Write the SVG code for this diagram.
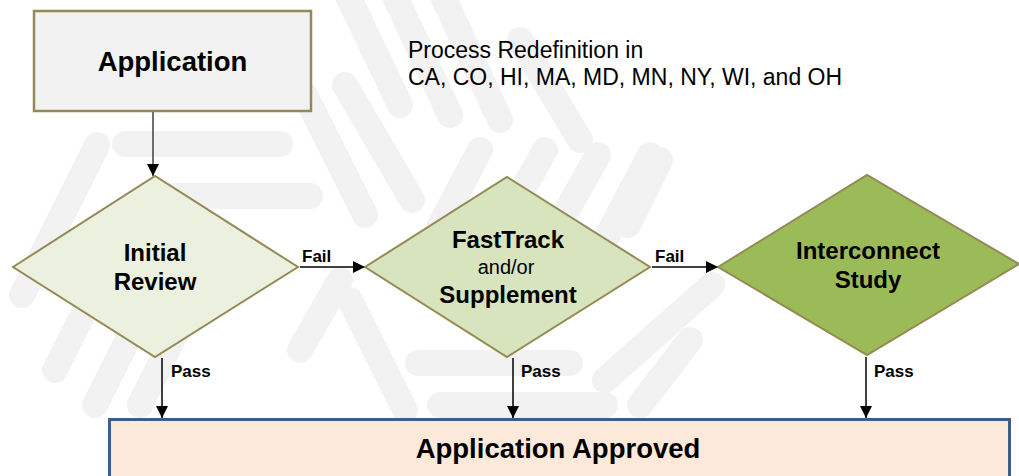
<svg xmlns="http://www.w3.org/2000/svg" width="1019" height="476" viewBox="0 0 1019 476">
<style>
.bg line{stroke:#f2f2f2;stroke-width:26;stroke-linecap:round}
.box{stroke:#948a54;stroke-width:2.5}
.dia{stroke:#948a54;stroke-width:2}
.t{font-family:"Liberation Sans",Arial,sans-serif;fill:#000;text-anchor:middle}
.b{font-weight:bold}
.lbl{font-family:"Liberation Sans",Arial,sans-serif;font-weight:bold;font-size:17px;fill:#000}
.con line{stroke:#000;stroke-width:1.5}
</style>
<defs>
<marker id="ah" viewBox="0 0 12 12" refX="12" refY="6" markerWidth="12" markerHeight="12" markerUnits="userSpaceOnUse" orient="auto">
<path d="M0,0 L12,6 L0,12 Z" fill="#000"/>
</marker>
</defs>
<rect width="1019" height="476" fill="#fff"/>
<g class="bg" id="watermark">
<line x1="345" y1="-10" x2="400" y2="105"/>
<line x1="392" y1="-10" x2="450" y2="115"/>
<line x1="440" y1="-10" x2="500" y2="120"/>
<line x1="520" y1="40" x2="580" y2="140"/>
<line x1="305" y1="95" x2="365" y2="215"/>
<line x1="345" y1="85" x2="412" y2="200"/>
<line x1="125" y1="144" x2="280" y2="144"/>
<line x1="172" y1="196" x2="310" y2="196"/>
<line x1="22" y1="295" x2="97" y2="145"/>
<line x1="55" y1="370" x2="135" y2="210"/>
<line x1="95" y1="405" x2="170" y2="255"/>
<line x1="140" y1="405" x2="200" y2="285"/>
<line x1="300" y1="350" x2="340" y2="280"/>
<line x1="350" y1="300" x2="405" y2="410"/>
<line x1="418" y1="363" x2="570" y2="363"/>
<line x1="440" y1="405" x2="605" y2="405"/>
<line x1="650" y1="155" x2="600" y2="250"/>
<line x1="598" y1="155" x2="550" y2="240"/>
<line x1="545" y1="150" x2="495" y2="240"/>
<line x1="480" y1="150" x2="440" y2="225"/>
<line x1="712" y1="285" x2="605" y2="380"/>
<line x1="690" y1="340" x2="640" y2="405"/>
<line x1="660" y1="160" x2="628" y2="225"/>
</g>
<g class="con" id="connectors">
<line x1="153" y1="112" x2="153" y2="176" marker-end="url(#ah)" style="stroke:#404040"/>
<line x1="300" y1="267" x2="365" y2="267" marker-end="url(#ah)"/>
<line x1="652" y1="267" x2="718" y2="267" marker-end="url(#ah)"/>
<line x1="162" y1="358" x2="162" y2="418" marker-end="url(#ah)"/>
<line x1="513" y1="358" x2="513" y2="418" marker-end="url(#ah)"/>
<line x1="866" y1="357" x2="866" y2="418" marker-end="url(#ah)"/>
<text class="lbl" x="302" y="262">Fail</text>
<text class="lbl" x="655" y="262">Fail</text>
<text class="lbl" x="171" y="377">Pass</text>
<text class="lbl" x="521" y="377">Pass</text>
<text class="lbl" x="874" y="377">Pass</text>
</g>
<g id="application">
<rect class="box" x="34" y="11" width="277" height="100" fill="#f2f2f2"/>
<text class="t b" x="172.5" y="71" font-size="27.5">Application</text>
</g>
<g id="note">
<text font-family="Liberation Sans, Arial, sans-serif" font-size="23" fill="#000" x="408" y="58">Process Redefinition in</text>
<text font-family="Liberation Sans, Arial, sans-serif" font-size="23" fill="#000" x="408" y="85">CA, CO, HI, MA, MD, MN, NY, WI, and OH</text>
</g>
<g id="initial-review">
<polygon class="dia" points="13,267 155,176 298,267 155,357" fill="#ebf1de"/>
<text class="t b" x="155" y="261" font-size="24">Initial</text>
<text class="t b" x="155" y="290" font-size="24">Review</text>
</g>
<g id="fasttrack">
<polygon class="dia" points="365,267 507,177 650,267 507,357" fill="#d7e4bd"/>
<text class="t b" x="508" y="248" font-size="24">FastTrack</text>
<text class="t" x="506" y="274" font-size="20">and/or</text>
<text class="t b" x="508" y="303" font-size="24">Supplement</text>
</g>
<g id="interconnect">
<polygon class="dia" points="718,267 867,175 1019,264 867,355" fill="#9bbb59"/>
<text class="t b" x="868" y="259" font-size="24">Interconnect</text>
<text class="t b" x="868" y="288" font-size="24">Study</text>
</g>
<g id="approved">
<rect x="109.5" y="419.5" width="900" height="70" fill="#fde9d9" stroke="#3d5d8c" stroke-width="3"/>
<text class="t b" x="558" y="458" font-size="27.5">Application Approved</text>
</g>
</svg>
